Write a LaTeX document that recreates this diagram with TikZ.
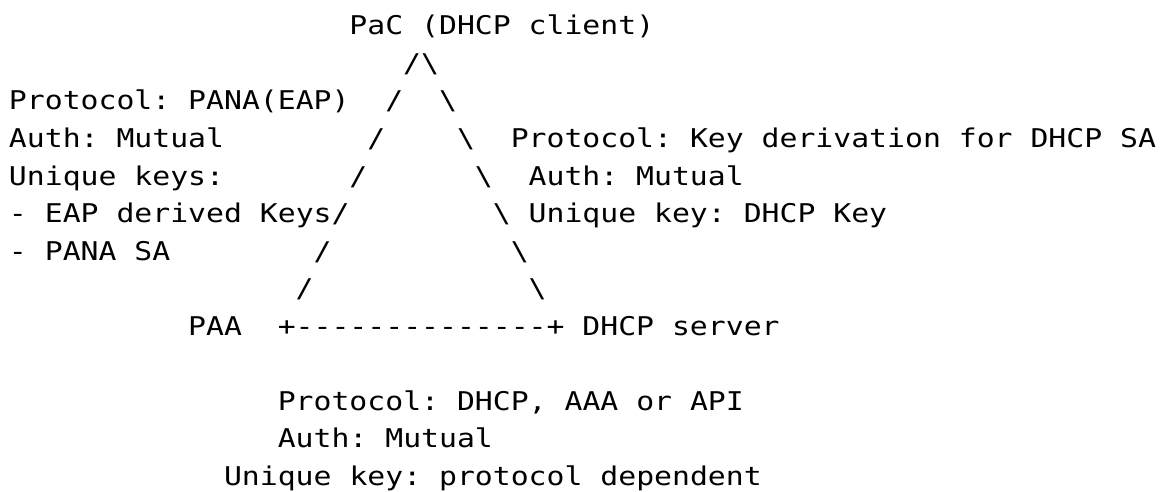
\documentclass[tikz,border=0pt]{standalone}
\usepackage{fontspec}
\setmonofont[FakeStretch=1.154]{DejaVu Sans Mono}
\newcommand\asciifont{\fontsize{25.8pt}{30pt}\selectfont\ttfamily}
\tikzset{
  txt/.style={anchor=base west, inner sep=0pt, outer sep=0pt, font=\asciifont, text=black},
}
\begin{document}
\begin{tikzpicture}[x=1pt, y=-1pt]
\useasboundingbox (0,0) rectangle (1167,492);
% row 1
\node[txt] (pac) at (349.48,35) {PaC (DHCP client)};
% row 2
\node[txt] (apexl) at (403.24,72.5) {/};
\node[txt] (apexr) at (421.16,72.5) {\textbackslash};
% row 3
\node[txt] (lproto) at (9,110) {Protocol: PANA(EAP)};
\node[txt] (l3) at (385.32,110) {/};
\node[txt] (r3) at (439.08,110) {\textbackslash};
% row 4
\node[txt] (lauth) at (9,147.5) {Auth: Mutual};
\node[txt] (l4) at (367.4,147.5) {/};
\node[txt] (r4) at (457,147.5) {\textbackslash};
\node[txt] (rproto) at (510.76,147.5) {Protocol: Key derivation for DHCP SA};
% row 5
\node[txt] (lkeys) at (9,185) {Unique keys:};
\node[txt] (l5) at (349.48,185) {/};
\node[txt] (r5) at (474.92,185) {\textbackslash};
\node[txt] (rauth) at (528.68,185) {Auth: Mutual};
% row 6
\node[txt] (leap) at (9,222.5) {- EAP derived Keys/};
\node[txt] (r6) at (492.84,222.5) {\textbackslash};
\node[txt] (rkey) at (528.68,222.5) {Unique key: DHCP Key};
% row 7
\node[txt] (lsa) at (9,260) {- PANA SA};
\node[txt] (l7) at (313.64,260) {/};
\node[txt] (r7) at (510.76,260) {\textbackslash};
% row 8
\node[txt] (l8) at (295.72,297.5) {/};
\node[txt] (r8) at (528.68,297.5) {\textbackslash};
% row 9
\node[txt] (paa) at (188.2,335) {PAA};
\node[txt] (base) at (277.8,335) {+--------------+};
\node[txt] (dhcps) at (582.44,335) {DHCP server};
% rows 11-13
\node[txt] (bproto) at (277.8,410) {Protocol: DHCP, AAA or API};
\node[txt] (bauth) at (277.8,447.5) {Auth: Mutual};
\node[txt] (bkey) at (224.04,485) {Unique key: protocol dependent};
\end{tikzpicture}
\end{document}
